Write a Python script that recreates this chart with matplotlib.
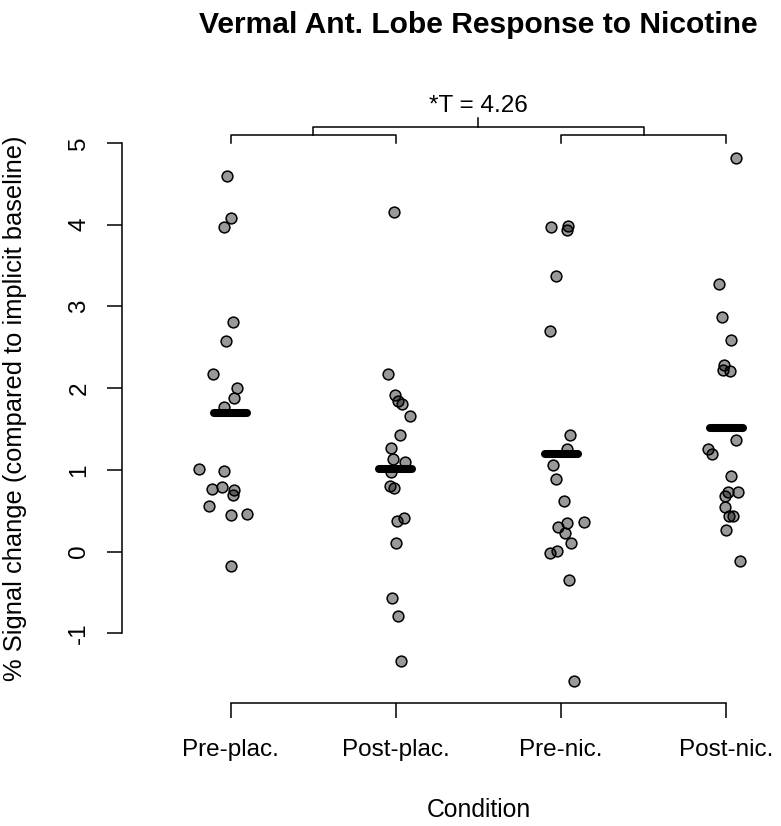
import matplotlib
matplotlib.use("Agg")
import matplotlib.pyplot as plt
import numpy as np

# Condition groups and read-off values (% signal change)
conditions = ["Pre-plac.", "Post-plac.", "Pre-nic.", "Post-nic."]

pre_plac = [4.60, 4.08, 3.97, 2.81, 2.58, 2.17, 2.00, 1.88, 1.77, 1.01,
            0.98, 0.76, 0.79, 0.75, 0.69, 0.56, 0.45, 0.46, -0.18]
post_plac = [4.15, 2.17, 1.92, 1.84, 1.80, 1.66, 1.43, 1.27, 1.13, 1.09,
             0.97, 0.80, 0.78, 0.41, 0.37, 0.10, -0.57, -0.79, -1.34]
pre_nic = [3.97, 3.99, 3.93, 3.37, 2.70, 1.43, 1.26, 1.06, 0.89, 0.62,
           0.36, 0.35, 0.30, 0.23, 0.11, 0.01, -0.02, -0.35, -1.58]
post_nic = [4.82, 3.28, 2.87, 2.59, 2.28, 2.22, 2.21, 1.37, 1.26, 1.19,
            0.92, 0.73, 0.73, 0.68, 0.55, 0.43, 0.44, 0.26, -0.12]

# horizontal jitter of each point
jit_pre_plac = [-0.024, 0.0, -0.041, 0.010, -0.030, -0.111, 0.038, 0.018, -0.041, -0.196,
                -0.044, -0.115, -0.053, 0.018, 0.010, -0.132, 0.0, 0.099, 0.0]
jit_post_plac = [-0.014, -0.047, -0.004, 0.010, 0.038, 0.085, 0.024, -0.032, -0.020, 0.056,
                 -0.030, -0.036, -0.010, 0.048, 0.004, 0.0, -0.022, 0.014, 0.030]
jit_pre_nic = [-0.059, 0.042, 0.035, -0.032, -0.068, 0.055, 0.035, -0.050, -0.030, 0.020,
               0.139, 0.038, -0.020, 0.024, 0.059, -0.024, -0.068, 0.048, 0.079]
jit_post_nic = [0.059, -0.041, -0.024, 0.030, -0.010, -0.016, 0.026, 0.062, -0.109, -0.085,
                0.030, 0.075, 0.014, -0.004, -0.006, 0.020, 0.041, 0.0, 0.085]

groups = [pre_plac, post_plac, pre_nic, post_nic]
jitters = [jit_pre_plac, jit_post_plac, jit_pre_nic, jit_post_nic]
stat_label = "*T = 4.26"

plt.rcParams["font.family"] = ["Liberation Sans", "DejaVu Sans"]
plt.rcParams["axes.unicode_minus"] = False

W, H = 781, 826
fig = plt.figure(figsize=(W / 100, H / 100), dpi=100)
ax = fig.add_axes([122 / W, 123 / H, (835 - 122) / W, (703 - 136.8) / H])

for i, (vals, jit) in enumerate(zip(groups, jitters)):
    pos = i + 1
    ax.scatter(pos + np.array(jit), vals, s=60, facecolor=(0, 0, 0, 0.4),
               edgecolor="black", linewidth=1.1, zorder=3, clip_on=False)
    m = np.mean(vals)
    ax.plot([pos - 0.1, pos + 0.1], [m, m], color="black", lw=5.8,
            solid_capstyle="round", zorder=4)

# comparison bracket above the groups
lw_b = 1.1
for a, b in [(1, 2), (3, 4)]:
    ax.plot([a, a, b, b], [5.0, 5.1, 5.1, 5.0], color="black", lw=lw_b, clip_on=False)
left_mid, right_mid = 1.5, 3.5
ax.plot([left_mid, left_mid, right_mid, right_mid], [5.1, 5.2, 5.2, 5.1],
        color="black", lw=lw_b, clip_on=False)
center = (left_mid + right_mid) / 2
ax.plot([center, center], [5.2, 5.3], color="black", lw=lw_b, clip_on=False)
ax.text(center, 5.38, stat_label, ha="center", va="baseline", fontsize=17.5)

ax.set_xlim(0.34, 4.66)
ax.set_ylim(-1.854, 5.076)
ax.set_xticks(range(1, len(conditions) + 1))
ax.set_xticklabels(conditions)
ax.set_yticks(range(-1, 6))

for s in ["top", "right"]:
    ax.spines[s].set_visible(False)
ax.spines["left"].set_bounds(-1, 5)
ax.spines["bottom"].set_bounds(1, 4)
ax.spines["left"].set_linewidth(1.1)
ax.spines["bottom"].set_linewidth(1.1)
ax.tick_params(axis="both", length=10.8, width=1.1, labelsize=17.5, color="black")
ax.tick_params(axis="x", pad=15)
ax.tick_params(axis="y", pad=12, labelrotation=90)
for lab in ax.get_yticklabels():
    lab.set_va("center")

fig.text(478.5 / W, (H - 33) / H, "Vermal Ant. Lobe Response to Nicotine",
         ha="center", va="baseline", fontsize=21.6, fontweight="bold")
fig.text(478.5 / W, (H - 817) / H, "Condition", ha="center", va="baseline", fontsize=17.8)
fig.text(22 / W, (H - 408) / H, "% Signal change (compared to implicit baseline)",
         ha="center", va="baseline", rotation=90, rotation_mode="anchor", fontsize=18.4)

fig.savefig("out.png", dpi=100)
